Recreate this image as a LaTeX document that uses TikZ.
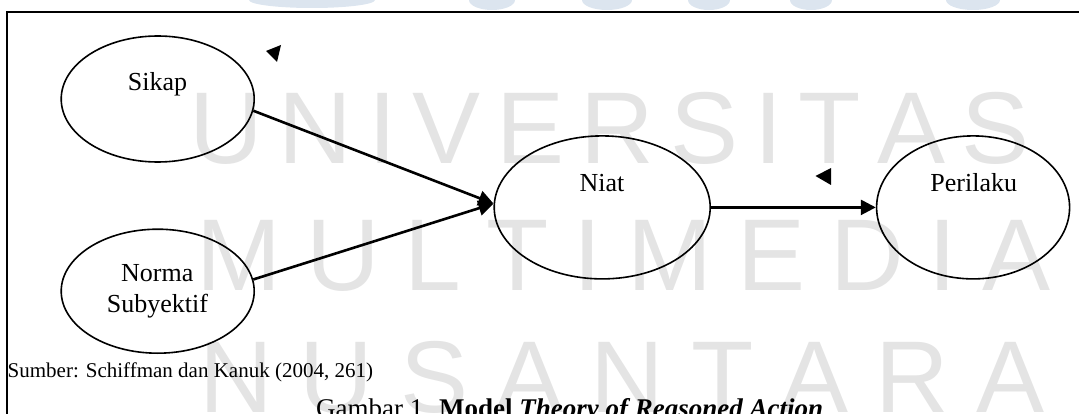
\documentclass[tikz,border=0pt]{standalone}
\usepackage{fontspec}
\setmainfont{Liberation Serif}
\newfontfamily\wmfont{Liberation Sans}
\usetikzlibrary{arrows.meta,shapes.geometric}
\definecolor{wmgray}{HTML}{E4E4E4}
\definecolor{wmblue}{HTML}{DCE5EF}
% letter gaps of the three background rows
\newcommand\gapA{\kern16pt}
\newcommand\gapB{\kern25pt}
\newcommand\gapC{\kern27pt}
\begin{document}
\begin{tikzpicture}[x=1pt,y=-1pt,
  oval/.style={ellipse, draw, line width=1.6pt, inner sep=0pt},
  link/.style={line width=2.6pt, -{Triangle[length=15pt,width=15pt]}},
  lbl/.style={font=\fontsize{26}{31}\selectfont, anchor=base, inner sep=0pt},
  wm/.style={font=\wmfont\fontsize{102}{102}\selectfont, text=wmgray, anchor=base west, inner sep=0pt},
  tipmark/.style={fill=black},
]
\useasboundingbox (0,0) rectangle (1079,414);
\clip (0,0) rectangle (1079,414);

% background lettering and logo fragments
\foreach \cx/\rx/\ry in {312/63/8, 492/23/10, 607/25/10, 709/21/10, 811/21/10, 973/27/10}
  \fill[wmblue] (\cx,0) ellipse [x radius=\rx, y radius=\ry];
\node[wm] (wmA) at (189,164) {U\gapA N\gapA I\gapA V\gapA E\gapA R\gapA S\gapA I\gapA T\gapA A\gapA S};
\node[wm] (wmB) at (196,290) {M\gapB U\gapB L\gapB T\gapB I\gapB M\gapB E\gapB D\gapB I\gapB A};
\node[wm] (wmC) at (199,412) {N\gapC U\gapC S\gapC A\gapC N\gapC T\gapC A\gapC R\gapC A};

% frame
\draw[line width=2pt] (7,414) -- (7,12.4) -- (1079,12.4);

% construct ovals
\node[oval, minimum width=193pt, minimum height=126pt] (sikap) at (157.7,99) {};
\node[oval, minimum width=193pt, minimum height=124pt] (norma) at (157.7,291.2) {};
\node[oval, minimum width=216pt, minimum height=143pt] (niat) at (602.2,207.4) {};
\node[oval, minimum width=193pt, minimum height=143pt] (perilaku) at (973.1,207.4) {};

% labels
\node[lbl] (sikapT) at (157.5,90.2) {Sikap};
\node[lbl] (normaT) at (157.2,281) {Norma};
\node[lbl] (subyT) at (157.5,312) {Subyektif};
\node[lbl] (niatT) at (602,192) {Niat};
\node[lbl] (perilakuT) at (973.8,192) {Perilaku};

% connectors
\draw[link] (sikap.-7) -- (niat.178);
\draw[link] (norma.7) -- (niat.178);
\draw[link] (niat.east) -- (perilaku.west);

% loose arrow tips
\fill[tipmark] (266,51) -- (281,45) -- (277,62) -- cycle;
\fill[tipmark] (815.5,176) -- (831,168) -- (831,185) -- cycle;

% source and caption
\node[font=\fontsize{21}{25}\selectfont, anchor=base west, inner sep=0pt] (sumber) at (7.5,377.3) {Sumber: Schiffman dan Kanuk (2004, 261)};
\node[font=\fontsize{27}{32}\selectfont, anchor=base west, inner sep=0pt] (caption) at (316,417) {Gambar 1. \textbf{Model \textit{Theory of Reasoned Action}}};
\end{tikzpicture}
\end{document}
